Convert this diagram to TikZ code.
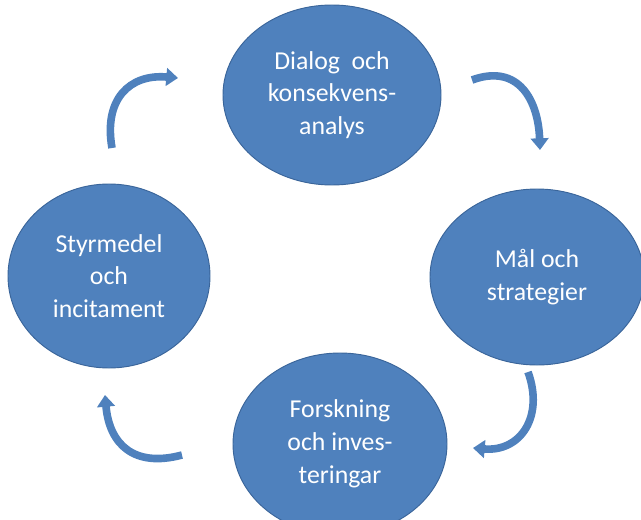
\documentclass[tikz,border=0pt]{standalone}
\usepackage{fontspec}
\setmainfont{Carlito}
\usetikzlibrary{shapes.geometric,arrows.meta}
\definecolor{stageblue}{HTML}{4F81BD}
\definecolor{rimblue}{HTML}{3A659A}
\begin{document}
\begin{tikzpicture}[x=0.03cm, y=0.03cm, >={Triangle[width=15pt,length=10pt]},
  stage/.style={ellipse, fill=stageblue, draw=rimblue, line width=0.8pt,
    text=white, align=center, inner sep=0pt,
    font=\fontsize{22}{28}\selectfont},
  turn/.style={->, draw=stageblue, line width=6.5pt, looseness=1.3}]
  \useasboundingbox (0,0) rectangle (641,519);

  \node[stage, minimum width=6.54cm, minimum height=5.4cm] (dialog) at (332,424) {Dialog\ \ och\\konsekvens-\\analys};
  \node[stage, minimum width=6.42cm, minimum height=5.28cm] (mal) at (537,242) {Mål och\\strategier};
  \node[stage, minimum width=6.42cm, minimum height=5.46cm] (forsk) at (340,75) {Forskning\\och inves-\\teringar};
  \node[stage, minimum width=6.06cm, minimum height=5.52cm] (styr) at (109,243) {Styrmedel\\och\\incitament};

  \coordinate (a1) at (112,371);
  \coordinate (b1) at (178,441);
  \coordinate (a2) at (472,439);
  \coordinate (b2) at (540,369);
  \coordinate (a3) at (528,147);
  \coordinate (b3) at (473,71);
  \coordinate (a4) at (182,64);
  \coordinate (b4) at (105,124);

  \draw[turn] (a1) to[out=100, in=175] (b1);
  \draw[turn] (a2) to[out=20, in=92] (b2);
  \draw[turn] (a3) to[out=-70, in=-5] (b3);
  \draw[turn] (a4) to[out=195, in=-85] (b4);
\end{tikzpicture}
\end{document}
